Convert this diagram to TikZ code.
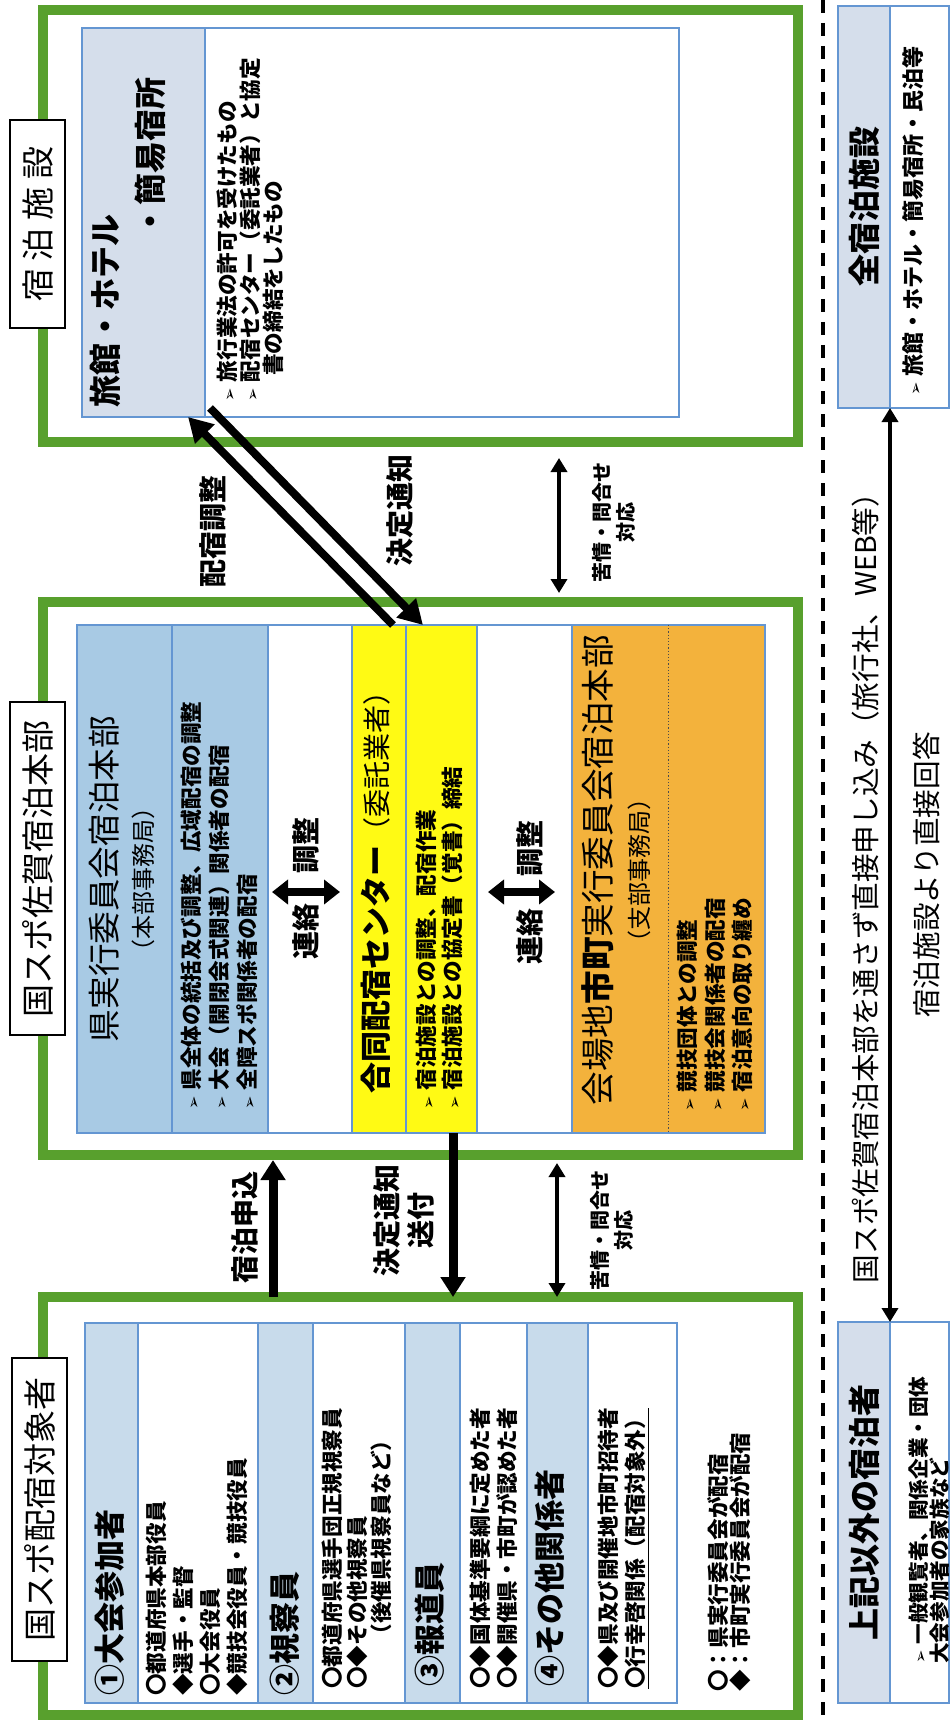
\documentclass[tikz,border=0pt]{standalone}
\usepackage{fontspec}
\setmainfont{Noto Sans CJK JP}
\newfontfamily\symfont{DejaVu Sans}
\usetikzlibrary{fit,arrows.meta}

\definecolor{framegreen}{RGB}{88,160,45}
\definecolor{rulblue}{RGB}{100,150,210}
\definecolor{hdrgray}{RGB}{213,222,235}
\definecolor{prefblue}{RGB}{168,202,228}
\definecolor{attblue}{RGB}{200,219,235}
\definecolor{ctryellow}{RGB}{255,250,20}
\definecolor{cityorange}{RGB}{243,178,60}

\newcommand{\fsz}[2]{\fontsize{#1}{#2}\selectfont}
\newcommand{\bul}{{\symfont\fontsize{8pt}{8pt}\selectfont ➢}\hspace{3pt}}

\begin{document}
\begin{tikzpicture}[x=0.5pt,y=-0.5pt,
	panel/.style={draw=framegreen,line width=5pt,fill=white,inner sep=0pt,outer sep=0pt},
	tagbox/.style={rotate=90,draw=black,line width=0.8pt,fill=white,inner sep=0pt,minimum height=27.5pt,font=\fsz{16.5pt}{16.5pt}},
	cell/.style={draw=rulblue,line width=0.8pt,inner sep=0pt,outer sep=0pt},
	vtext/.style={rotate=90,inner sep=0pt},
	items/.style={rotate=90,inner sep=0pt,anchor=north west,align=left,font=\fsz{10.8pt}{13.5pt}\bfseries},
	bigarrow/.style={line width=4.5pt,-{Triangle[width=12pt,length=10pt]}},
	slant/.style={line width=4pt,-{Triangle[width=13pt,length=12pt]}},
	linkarrow/.style={line width=4pt,{Triangle[width=12pt,length=8pt]}-{Triangle[width=12pt,length=8pt]}},
	twoway/.style={line width=2pt,{Triangle[width=8pt,length=7pt]}-{Triangle[width=8pt,length=7pt]}},
	divider/.style={line width=2.2pt,dash pattern=on 6.5pt off 5pt}]

\useasboundingbox (0,0) rectangle (950,1722);

% the three green panels and their tags
\node[panel,fit={(43,10) (798,442)}] (facil) {};
\node[panel,fit={(43,602) (798,1155)}] (office) {};
\node[panel,fit={(43,1297) (798,1715)}] (guests) {};
\node[tagbox,minimum width=104pt] (facilTag) at (37.5,224) {宿\hspace{4pt}泊\hspace{4pt}施\hspace{4pt}設};
\node[tagbox,minimum width=166.5pt] (officeTag) at (37.5,868.5) {国スポ佐賀宿泊本部};
\node[tagbox,minimum width=151.5pt] (guestsTag) at (39.5,1509.5) {国スポ配宿対象者};

% lodging facilities
\node[cell,fill=hdrgray,fit={(82,28) (205,417)}] (inn) {};
\node[cell,fill=white,fit={(205,28) (679,417)}] (innlist) {};
\node[vtext,text width=165pt,align=left,font=\fsz{16pt}{22.5pt}\bfseries] (innText) at (127.5,242) {旅館・ホテル\\\hspace*{\fill}・簡易宿所};
\node[items,font=\fsz{10.8pt}{11.5pt}\bfseries] (innItems) at (216,402) {\bul 旅行業法の許可を受けたもの\\\bul 配宿センター（委託業者）と協定\\\hspace*{13pt}書の締結をしたもの};

% accommodation headquarters
\node[cell,fill=white,fit={(77,625) (765,1133)}] (officeTable) {};
\node[cell,fill=prefblue,fit={(77,625) (172,1133)}] (pref) {};
\node[cell,fill=prefblue,fit={(172,625) (268,1133)}] (preflist) {};
\node[cell,fill=ctryellow,fit={(352,625) (406,1133)}] (ctr) {};
\node[cell,fill=ctryellow,fit={(406,625) (477,1133)}] (ctrlist) {};
\node[cell,fill=cityorange,fit={(572,625) (765,1133)}] (city) {};
\draw[densely dotted,black!70,line width=0.6pt] (city.north) -- (city.south);

\node[vtext,align=center,font=\fsz{16.3pt}{18pt}] (prefText) at (121.5,879) {県実行委員会宿泊本部\\{\fsz{12pt}{14pt}（本部事務局）}};
\node[items,font=\fsz{10.8pt}{14pt}\bfseries] (prefItems) at (181,1110) {\bul 県全体の統括及び調整、広域配宿の調整\\\bul 大会（開閉会式関連）関係者の配宿\\\bul 全障スポ関係者の配宿};
\node[vtext,font=\fsz{14pt}{14pt}\bfseries] (link1a) at (306,931) {連絡};
\node[vtext,font=\fsz{14pt}{14pt}\bfseries] (link1b) at (306,845) {調整};
\node[vtext] (ctrText) at (376,885) {{\fsz{15.5pt}{16pt}\bfseries 合同配宿センター}{\fsz{14pt}{16pt}（委託業者）}};
\node[items,font=\fsz{10.8pt}{13pt}\bfseries] (ctrItems) at (416,1110) {\bul 宿泊施設との調整、配宿作業\\\bul 宿泊施設との協定書（覚書）締結};
\node[vtext,font=\fsz{14pt}{14pt}\bfseries] (link2a) at (530,936) {連絡};
\node[vtext,font=\fsz{14pt}{14pt}\bfseries] (link2b) at (530,848) {調整};
\node[vtext,align=center,font=\fsz{16.8pt}{19pt}] (cityText) at (616,870) {会場地{\bfseries 市町}実行委員会宿泊本部\\{\fsz{12pt}{14pt}（支部事務局）}};
\node[items,font=\fsz{10.8pt}{13.75pt}\bfseries] (cityItems) at (677,1112) {\bul 競技団体との調整\\\bul 競技会関係者の配宿\\\bul 宿泊意向の取り纏め};

\draw[linkarrow] ([shift={(2pt,-6.5pt)}]preflist.east) -- ([shift={(-6pt,-6.5pt)}]ctr.west);
\draw[linkarrow] ([shift={(5.5pt,-6.5pt)}]ctrlist.east) -- ([shift={(-8.5pt,-6.5pt)}]city.west);

% guests to be placed
\node[cell,fill=white,fit={(85,1323) (677,1703)}] (attTable) {};
\node[cell,fill=attblue,fit={(85,1323) (138,1703)}] (att1) {};
\node[cell,fill=attblue,fit={(258,1323) (313,1703)}] (att2) {};
\node[cell,fill=attblue,fit={(405,1323) (460,1703)}] (att3) {};
\node[cell,fill=attblue,fit={(527,1323) (588,1703)}] (att4) {};

\node[vtext,anchor=west,font=\fsz{15.5pt}{16pt}\bfseries] (att1Text) at (110,1696) {①大会参加者};
\node[items] (att1Items) at (146,1696) {〇都道府県本部役員\\◆選手・監督\\〇大会役員\\◆競技会役員・競技役員};
\node[vtext,anchor=west,font=\fsz{15.5pt}{16pt}\bfseries] (att2Text) at (285,1696) {②視察員};
\node[items,font=\fsz{10.8pt}{12.25pt}\bfseries] (att2Items) at (322,1689) {〇都道府県選手団正規視察員\\〇◆その他視察員\\\hspace*{2em}（後催県視察員など）};
\node[vtext,anchor=west,font=\fsz{15.5pt}{16pt}\bfseries] (att3Text) at (430,1687) {③報道員};
\node[items] (att3Items) at (469,1689) {〇◆国体基準要綱に定めた者\\〇◆開催県・市町が認めた者};
\node[vtext,anchor=west,font=\fsz{15.5pt}{16pt}\bfseries] (att4Text) at (550,1687) {④その他関係者};
\node[items] (att4Items) at (597,1689) {〇◆県及び開催地市町招待者\\\underline{〇行幸啓関係（配宿対象外）}};
\node[items,font=\fsz{10.8pt}{11pt}\bfseries] (legend) at (707,1692) {〇：県実行委員会が配宿\\◆：市町実行委員会が配宿};

% connectors between the panels
\draw[slant] ([xshift=-6.5pt]ctr.north east) -- ([xshift=-8.5pt]inn.south east);
\draw[slant] ([shift={(2.5pt,4.5pt)}]innlist.south west) -- ([xshift=8.5pt]ctrlist.north west);
\node[vtext,font=\fsz{14pt}{14pt}\bfseries] (adjustText) at (213,531) {配宿調整};
\node[vtext,font=\fsz{14pt}{14pt}\bfseries] (noticeText) at (400,510) {決定通知};

\draw[twoway,shorten <=8pt,shorten >=4.5pt] ([xshift=258pt]facil.south west) -- ([xshift=258pt]office.north west);
\node[vtext,align=center,font=\fsz{10pt}{12pt}\bfseries] (claimTop) at (614,522) {苦情・問合せ\\対応};

\draw[bigarrow,shorten >=2.5pt] ([xshift=115pt]guests.north west) -- ([xshift=115pt]office.south west);
\coordinate (sendFrom) at ([xshift=5.75pt]ctrlist.south);
\draw[bigarrow] (sendFrom) -- (sendFrom |- guests.north);
\draw[twoway,shorten <=4pt] ([xshift=257pt]office.south west) -- ([xshift=257pt]guests.north west);
\node[vtext,font=\fsz{14pt}{14pt}\bfseries] (applyText) at (245,1227) {宿泊申込};
\node[vtext,align=center,font=\fsz{14pt}{17pt}\bfseries] (sendText) at (404,1220) {決定通知\\送付};
\node[vtext,align=center,font=\fsz{10pt}{12pt}\bfseries] (claimBottom) at (612,1230) {苦情・問合せ\\対応};

% outside the headquarters
\draw[divider] (823,0) -- (823,1722);
\node[cell,fill=hdrgray,fit={(838,6) (890,408)}] (allinn) {};
\node[cell,fill=white,fit={(890,6) (949,408)}] (allinnlist) {};
\node[vtext,font=\fsz{16pt}{16pt}\bfseries] (allinnText) at (allinn.center) {全宿泊施設};
\node[items,font=\fsz{11pt}{13pt}\bfseries] (allinnItems) at (902,396) {\bul 旅館・ホテル・簡易宿所・民泊等};
\node[cell,fill=hdrgray,fit={(838,1322) (890,1703)}] (other) {};
\node[cell,fill=white,fit={(890,1322) (949,1703)}] (otherlist) {};
\node[vtext,font=\fsz{16pt}{16pt}\bfseries] (otherText) at (other.center) {上記以外の宿泊者};
\node[items,font=\fsz{10.3pt}{9.5pt}\bfseries] (otherItems) at (908,1664) {\bul 一般観覧者、関係企業・団体\\大会参加者の家族など};
\draw[twoway] (allinn.south east) -- (other.north east);
\node[vtext,font=\fsz{14.3pt}{15pt}] (directText) at (866,881) {国スポ佐賀宿泊本部を通さず直接申し込み（旅行社、WEB等）};
\node[vtext,font=\fsz{14.3pt}{15pt}] (replyText) at (926,875) {宿泊施設より直接回答};

\end{tikzpicture}
\end{document}
